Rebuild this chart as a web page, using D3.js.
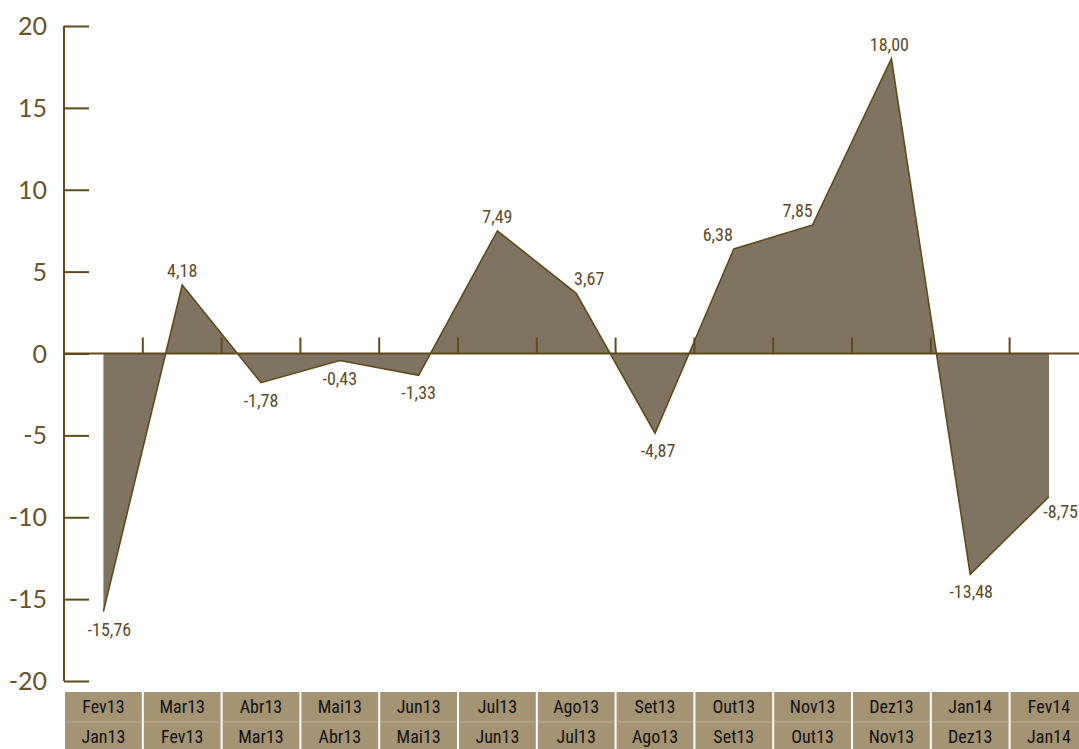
<!DOCTYPE html>
<html><head><meta charset="utf-8">
<script src="https://cdn.jsdelivr.net/npm/d3@7"></script>
<style>
body{margin:0;background:#fff;}
svg{display:block;}
</style></head>
<body>
<svg id="chart" width="1079" height="749"></svg>
<script>
const topLabels = ["Fev13","Mar13","Abr13","Mai13","Jun13","Jul13","Ago13","Set13","Out13","Nov13","Dez13","Jan14","Fev14"];
const bottomLabels = ["Jan13","Fev13","Mar13","Abr13","Mai13","Jun13","Jul13","Ago13","Set13","Out13","Nov13","Dez13","Jan14"];
const values = [-15.76, 4.18, -1.78, -0.43, -1.33, 7.49, 3.67, -4.87, 6.38, 7.85, 18.00, -13.48, -8.75];
const yTicks = [20, 15, 10, 5, 0, -5, -10, -15, -20];

const svg = d3.select("#chart");
const axisColor = "#5f4a1c";
const labelColor = "#5c4b2b";
const condensed = "'Liberation Sans Narrow','Arial Narrow','Roboto Condensed',sans-serif";

const x = d3.scaleBand().domain(d3.range(values.length)).range([64, 64 + 13 * 78.8]).padding(0);
const y = d3.scaleLinear().domain([-20, 20]).range([681, 26]);
const cx = i => x(i) + x.bandwidth() / 2;

// area
const area = d3.area().x((d, i) => cx(i)).y0(y(0)).y1(d => y(d));
const line = d3.line().x((d, i) => cx(i)).y(d => y(d));
svg.append("path").datum(values).attr("d", area).attr("fill", "#7f7461");
svg.append("path").datum(values).attr("d", line).attr("fill", "none")
  .attr("stroke", axisColor).attr("stroke-width", 1.6).attr("stroke-linejoin", "miter");

// zero line with ticks
svg.append("line").attr("x1", 64).attr("x2", 1079).attr("y1", y(0)).attr("y2", y(0))
  .attr("stroke", axisColor).attr("stroke-width", 2.2);
svg.selectAll(".xt").data(d3.range(1, values.length)).join("line")
  .attr("x1", i => x(i)).attr("x2", i => x(i)).attr("y1", y(0) - 16).attr("y2", y(0))
  .attr("stroke", axisColor).attr("stroke-width", 2);

// y axis
const yAxis = d3.axisRight(y).tickValues(yTicks).tickSize(25).tickFormat("");
const ga = svg.append("g").attr("transform", "translate(64,0)").call(yAxis);
ga.select(".domain").attr("stroke", axisColor).attr("stroke-width", 2).attr("d", `M0,${y(20)}V${y(-20)}`);
ga.selectAll(".tick line").attr("stroke", axisColor).attr("stroke-width", 2);
svg.selectAll(".ylab").data(yTicks).join("text")
  .attr("x", 47).attr("y", d => y(d) + 9).attr("text-anchor", "end")
  .attr("font-family", "Lato, 'Open Sans', sans-serif").attr("font-size", 25)
  .attr("fill", "#66552a").text(d => d);

// value labels
const fmt = v => v.toFixed(2).replace(".", ",");
const labelShift = [6, 0, 0, 0, 0, 0, 13, 3, -16, -15, -2, 1, 0];
const last = values.length - 1;
svg.selectAll(".vlab").data(values).join("text")
  .attr("x", (d, i) => i === last ? 1078 : cx(i) + labelShift[i])
  .attr("y", (d, i) => i === last ? y(d) + 21 : (d >= 0 ? y(d) - 8 : y(d) + 24))
  .attr("text-anchor", (d, i) => i === last ? "end" : "middle")
  .attr("font-family", condensed).attr("font-size", 18)
  .attr("fill", labelColor).text(fmt);

// category boxes
const boxes = svg.selectAll(".box").data(topLabels).join("g");
boxes.append("rect").attr("x", (d, i) => x(i) + 1).attr("y", 692)
  .attr("width", x.bandwidth() - 2).attr("height", 60).attr("fill", "#a59474");
boxes.append("line").attr("x1", (d, i) => x(i) + 1).attr("x2", (d, i) => x(i) + x.bandwidth() - 1)
  .attr("y1", 722).attr("y2", 722).attr("stroke", "#bfb29a").attr("stroke-width", 0.8);
boxes.append("text").attr("x", (d, i) => cx(i)).attr("y", 713).attr("text-anchor", "middle")
  .attr("font-family", condensed).attr("font-size", 18).attr("fill", "#111").text(d => d);
boxes.append("text").attr("x", (d, i) => cx(i)).attr("y", 743).attr("text-anchor", "middle")
  .attr("font-family", condensed).attr("font-size", 18).attr("fill", "#111").text((d, i) => bottomLabels[i]);
</script>
</body></html>
